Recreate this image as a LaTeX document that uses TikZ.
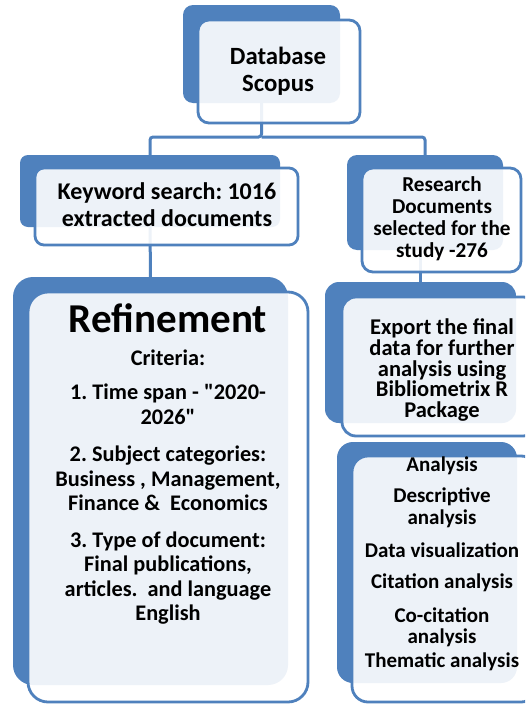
\documentclass[tikz,border=0pt]{standalone}
\usepackage{fontspec}
\setmainfont{Carlito}[Ligatures=TeXOff]
\frenchspacing
\definecolor{accent}{HTML}{4F81BD}
\tikzset{
  boxback/.style={fill=accent, draw=none, inner sep=0pt, outer sep=0pt},
  boxfront/.style={fill=white, fill opacity=0.9, draw=accent, line width=2.8pt, inner sep=0pt, outer sep=0pt},
  txt/.style={text=black, align=center, inner sep=0pt},
  link/.style={draw=accent, line width=3pt, rounded corners=3pt},
}
\begin{document}
\begin{tikzpicture}[x=1pt, y=-1pt]
  \useasboundingbox (0,0) rectangle (525,704);
  \fill[white] (0,0) rectangle (525,704);
  \clip (0,0) rectangle (525,704);

  % back plates
  \node[boxback, rounded corners=10pt, minimum width=157pt, minimum height=98pt]  (dbB) at (261.5,54) {};
  \node[boxback, rounded corners=8pt,  minimum width=260pt, minimum height=72pt]  (kwB) at (150,191) {};
  \node[boxback, rounded corners=10pt, minimum width=156pt, minimum height=95pt]  (rsB) at (425,202.5) {};
  \node[boxback, rounded corners=20pt, minimum width=275pt, minimum height=408pt] (rfB) at (150.5,481) {};
  \node[boxback, rounded corners=14pt, minimum width=191pt, minimum height=141pt] (exB) at (420.5,352.5) {};
  \node[boxback, rounded corners=16pt, minimum width=180pt, minimum height=241pt] (anB) at (427,562.5) {};

  % connectors
  \coordinate (bus) at (261.5,137);
  \draw[link] (dbB.south) -- (bus) -| (kwB.north);
  \draw[link] (bus) -| (rsB.north);
  \draw[link] (kwB.south) -- (rfB.north);
  \draw[link] (exB.north |- rsB.south) -- (exB.north);

  % front panels
  \node[boxfront, rounded corners=11pt, minimum width=162pt, minimum height=103pt] (db) at (279,71.5) {};
  \node[boxfront, rounded corners=9pt,  minimum width=263pt, minimum height=77pt]  (kw) at (166.5,206.5) {};
  \node[boxfront, rounded corners=11pt, minimum width=159pt, minimum height=104pt] (rs) at (441.5,220) {};
  \node[boxfront, rounded corners=20pt, minimum width=280pt, minimum height=410pt] (rf) at (168,497) {};
  \node[boxfront, rounded corners=14pt, minimum width=195pt, minimum height=139pt] (ex) at (439.5,366.5) {};
  \node[boxfront, rounded corners=16pt, minimum width=185pt, minimum height=246pt] (an) at (444.5,579) {};

  % texts
  \node[txt, font=\bfseries\fontsize{24.8pt}{27pt}\selectfont] (dbT) at (278,71) {Database\\Scopus};
  \node[txt, font=\bfseries\fontsize{24pt}{27pt}\selectfont] (kwT) at (167,205) {Keyword search: 1016\\extracted documents};
  \node[txt, font=\bfseries\fontsize{21.2pt}{22pt}\selectfont] (rsT) at (442,219) {Research\\Documents\\selected for the\\study -276};
  \node[txt, font=\bfseries\fontsize{41pt}{44pt}\selectfont] (rfH) at (168,318) {Refinement};
  \node[txt, font=\bfseries\fontsize{22.3pt}{24.5pt}\selectfont] (rfT) at (168,487) {Criteria:\\[10pt]
    1. Time span - "2020-\\2026"\\[13pt]
    2. Subject categories:\\Business , Management,\\Finance \&{} \ Economics\\[12pt]
    3. Type of document:\\Final publications,\\articles. \ and language\\English};
  \node[txt, font=\bfseries\fontsize{22.5pt}{20.7pt}\selectfont] (exT) at (442,370) {Export the final\\data for further\\analysis using\\Bibliometrix R\\Package};
  \node[txt, font=\bfseries\fontsize{21pt}{21.5pt}\selectfont] (anT) at (442,564) {Analysis\\[9.5pt]
    Descriptive\\analysis\\[11.5pt]
    Data visualization\\[9.5pt]
    Citation analysis\\[12.5pt]
    Co-citation\\analysis\\[2.5pt]
    Thematic analysis};
\end{tikzpicture}
\end{document}
